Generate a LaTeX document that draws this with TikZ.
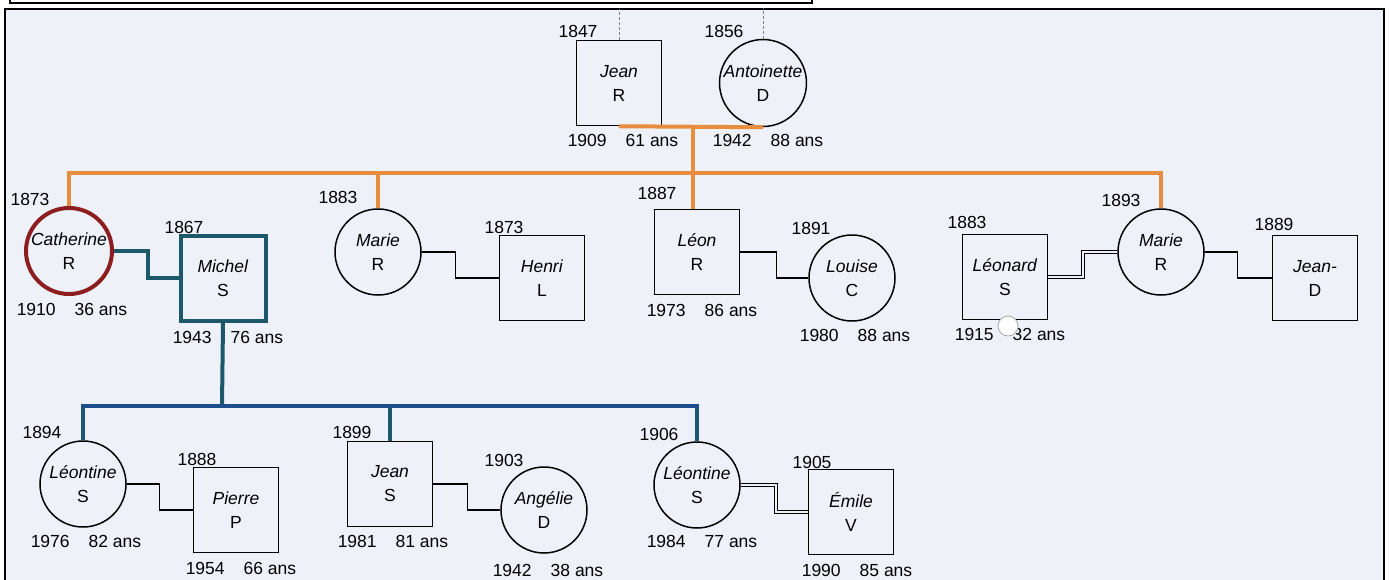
\documentclass[tikz,border=0pt]{standalone}
\usepackage{fontspec}
\setmainfont{Liberation Sans}
\definecolor{orangec}{RGB}{232,140,62}
\definecolor{tealc}{RGB}{28,88,105}
\definecolor{bluec}{RGB}{30,78,140}
\definecolor{catred}{RGB}{140,30,32}
\definecolor{bgcol}{RGB}{238,242,248}
\begin{document}
\begin{tikzpicture}[
    x=1pt, y=-1pt,
    font=\fontsize{17.5}{24}\selectfont,
    man/.style={draw, line width=1.5pt, minimum size=85pt, inner sep=0pt,
        align=center, execute at begin node={\rule{0pt}{27pt}}},
    woman/.style={man, circle, minimum size=86pt},
    yr/.style={inner sep=0pt},
    wed/.style={line width=1.3pt},
    wed2/.style={double=bgcol, double distance=2.2pt, line width=0.9pt},
    kin/.style={line width=4pt, orangec},
    tie/.style={line width=4pt, tealc}
]
\useasboundingbox (0,0) rectangle (1390,579);
\draw[line width=1.5pt, fill=bgcol] (5,9) rectangle (1384,592);
\draw[line width=1.5pt, fill=white] (10,-20) rectangle (812,3);

\node[man] (jean) at (619,83) {\textit{Jean}\\R};
\node[woman] (antoinette) at (763,83) {\textit{Antoinette}\\D};

\node[woman, draw=catred, line width=4pt] (catherine) at (69,251) {\textit{Catherine}\\R};
\node[man, draw=tealc, line width=4pt] (michel) at (223,278) {\textit{Michel}\\S};
\node[woman] (marie1) at (378,252) {\textit{Marie}\\R};
\node[man] (henri) at (542,278) {\textit{Henri}\\L};
\node[man] (leon) at (697,252) {\textit{Léon}\\R};
\node[woman] (louise) at (852,278) {\textit{Louise}\\C};
\node[man] (leonard) at (1005,277) {\textit{Léonard}\\S};
\node[woman] (marie2) at (1161,252) {\textit{Marie}\\R};
\node[man] (jeand) at (1315,278) {\textit{Jean-}\\D};

\node[woman] (leontine1) at (83,484) {\textit{Léontine}\\S};
\node[man] (pierre) at (236,510) {\textit{Pierre}\\P};
\node[man] (jeans) at (390,484) {\textit{Jean}\\S};
\node[woman] (angelie) at (544,510) {\textit{Angélie}\\D};
\node[woman] (leontine2) at (697,485) {\textit{Léontine}\\S};
\node[man] (emile) at (851,512) {\textit{Émile}\\V};

\node[yr] (jean-n) at (578,31) {1847};
\node[yr] (jean-d) at (623,140) {1909\hspace{19pt}61 ans};
\node[yr] (antoinette-n) at (724,31) {1856};
\node[yr] (antoinette-d) at (768,140) {1942\hspace{19pt}88 ans};
\node[yr] (catherine-n) at (30,199) {1873};
\node[yr] (catherine-d) at (72,309) {1910\hspace{19pt}36 ans};
\node[yr] (michel-n) at (184,227) {1867};
\node[yr] (michel-d) at (228,337) {1943\hspace{19pt}76 ans};
\node[yr] (marie1-n) at (338,197) {1883};
\node[yr] (henri-n) at (504,227) {1873};
\node[yr] (leon-n) at (657,193) {1887};
\node[yr] (leon-d) at (702,310) {1973\hspace{19pt}86 ans};
\node[yr] (louise-n) at (811,228) {1891};
\node[yr] (louise-d) at (855,335) {1980\hspace{19pt}88 ans};
\node[yr] (leonard-n) at (967,222) {1883};
\node[yr] (leonard-d) at (1010,334) {1915\hspace{19pt}32 ans};
\node[yr] (marie2-n) at (1121,200) {1893};
\node[yr] (jeand-n) at (1274,224) {1889};
\node[yr] (leontine1-n) at (42,432) {1894};
\node[yr] (leontine1-d) at (86,541) {1976\hspace{19pt}82 ans};
\node[yr] (pierre-n) at (197,459) {1888};
\node[yr] (pierre-d) at (241,568) {1954\hspace{19pt}66 ans};
\node[yr] (jeans-n) at (352,432) {1899};
\node[yr] (jeans-d) at (393,541) {1981\hspace{19pt}81 ans};
\node[yr] (angelie-n) at (504,460) {1903};
\node[yr] (angelie-d) at (548,570) {1942\hspace{19pt}38 ans};
\node[yr] (leontine2-n) at (659,434) {1906};
\node[yr] (leontine2-d) at (702,541) {1984\hspace{19pt}77 ans};
\node[yr] (emile-n) at (812,462) {1905};
\node[yr] (emile-d) at (857,570) {1990\hspace{19pt}85 ans};
\node[circle, draw=gray!70, line width=0.8pt, fill=white, minimum size=20pt, inner sep=0pt] (spot) at (1008,326) {};

\draw[densely dashed, gray] (jean.north) -- ++(0,-31);
\draw[densely dashed, gray] (antoinette.north) -- ++(0,-31);

\coordinate (sib) at (693,173);
\draw[kin] (jean.south) -- (antoinette.south);
\draw[kin] (sib) -- (sib |- jean.south);
\draw[kin] (catherine.north) |- (sib) -| (marie2.north);
\draw[kin] (marie1.north) -- (marie1.north |- sib);
\draw[kin] (sib) -- (sib |- leon.north);

\draw[tie] (catherine.east) -- ++(34,0) |- (michel.west);
\coordinate (sib2) at (222,406);
\draw[tie] (michel.south) -- (sib2);
\draw[tie] (leontine1.north) -- (leontine1.north |- sib2);
\draw[tie] (jeans.north) -- (jeans.north |- sib2);
\draw[tie] (leontine2.north) -- (leontine2.north |- sib2);
\draw[line width=4pt, bluec, line cap=rect] (leontine1.north |- sib2) -- (leontine2.north |- sib2);

\draw[wed] (marie1.east) -- ++(34,0) |- (henri.west);
\draw[wed] (leon.east) -- ++(36,0) |- (louise.west);
\draw[wed2] (leonard.east) -- ++(35,0) |- (marie2.west);
\draw[wed] (marie2.east) -- ++(33,0) |- (jeand.west);
\draw[wed] (leontine1.east) -- ++(33,0) |- (pierre.west);
\draw[wed] (jeans.east) -- ++(34,0) |- (angelie.west);
\draw[wed2] (leontine2.east) -- ++(35,0) |- (emile.west);
\end{tikzpicture}
\end{document}
